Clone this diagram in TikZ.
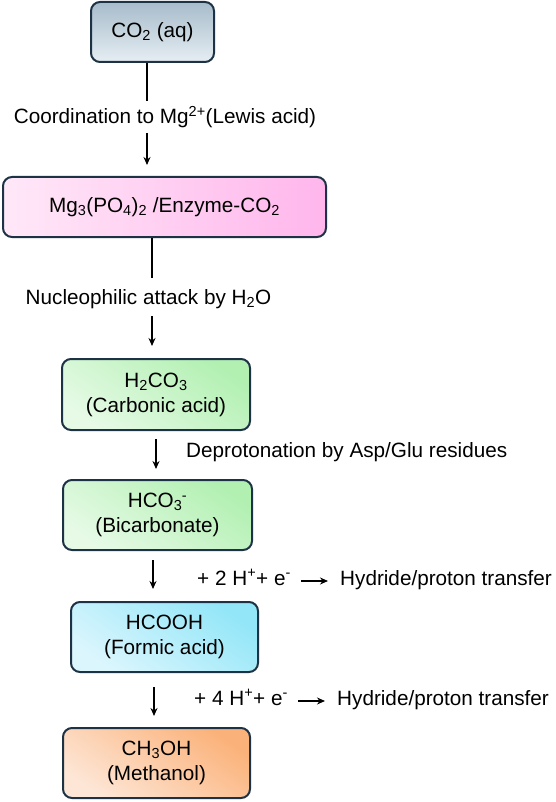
\documentclass[tikz,border=0pt]{standalone}
\usepackage{fontspec}
\setmainfont{Liberation Sans}
\usetikzlibrary{arrows.meta,calc}
\definecolor{bord}{HTML}{1D3345}
\definecolor{coT}{HTML}{A7BCCB}
\definecolor{coB}{HTML}{E6EEF3}
\definecolor{mgL}{HTML}{FFE8F8}
\definecolor{mgR}{HTML}{FFB6EC}
\definecolor{grL}{HTML}{E6FAE6}
\definecolor{grR}{HTML}{B2F0B2}
\definecolor{blL}{HTML}{DCF6FD}
\definecolor{blR}{HTML}{92E6F8}
\definecolor{orL}{HTML}{FDE6D6}
\definecolor{orR}{HTML}{FBB27A}
\tikzset{
  box/.style={draw=bord, line width=2pt, rounded corners=9pt, inner sep=0pt,
    align=center, font=\fontsize{20.7}{25}\selectfont},
  lab/.style={anchor=base, inner sep=0pt, font=\fontsize{20.7}{25}\selectfont},
  conn/.style={line width=1.6pt, black},
  arr/.style={conn, -{Stealth[length=8pt,width=7pt]}},
  sidearr/.style={line width=1.8pt, black, -{Stealth[length=8pt,width=7pt]}},
}
\begin{document}
\begin{tikzpicture}[x=1pt,y=1pt]
\useasboundingbox (0,0) rectangle (555,-802);
% boxes
\node[box, minimum width=123pt, minimum height=60pt, top color=coT, bottom color=coB]
  (co2) at (152.5,-32) {CO\textsubscript{2} (aq)};
\node[box, minimum width=323pt, minimum height=60pt, left color=mgL, right color=mgR]
  (mg) at (164.5,-207) {Mg\textsubscript{3}(PO\textsubscript{4})\textsubscript{2} /Enzyme-CO\textsubscript{2}};
\node[box, minimum width=188pt, minimum height=71pt, bottom color=grL, top color=grR, shading angle=-35]
  (h2co3) at (156,-394.5) {H\textsubscript{2}CO\textsubscript{3}\\(Carbonic acid)};
\node[box, minimum width=189pt, minimum height=70pt, bottom color=grL, top color=grR, shading angle=-35]
  (hco3) at (157.5,-515) {HCO\textsubscript{3}\kern-0.5pt\textsuperscript{-}\\(Bicarbonate)};
\node[box, minimum width=187pt, minimum height=70pt, bottom color=blL, top color=blR, shading angle=-35]
  (hcooh) at (164.5,-637) {HCOOH\\(Formic acid)};
\node[box, minimum width=187pt, minimum height=70pt, bottom color=orL, top color=orR, shading angle=-35]
  (ch3oh) at (156.5,-763) {CH\textsubscript{3}OH\\(Methanol)};
% labels
\node[lab] (l1) at (165,-124) {Coordination to Mg\textsuperscript{2+}(Lewis acid)};
\node[lab] (l2) at (148.5,-304) {Nucleophilic attack by H\textsubscript{2}O};
\node[lab, anchor=base west] (l3) at (186,-457) {Deprotonation by Asp/Glu residues};
\node[lab, anchor=base west] (l4) at (197,-585) {+ 2 H\textsuperscript{+}+ e\textsuperscript{-}};
\node[lab, anchor=base west] (h4) at (340,-585) {Hydride/proton transfer};
\node[lab, anchor=base west] (l5) at (194,-705) {+ 4 H\textsuperscript{+}+ e\textsuperscript{-}};
\node[lab, anchor=base west] (h5) at (337,-705) {Hydride/proton transfer};
% connector helper coordinates
\coordinate (c1) at (147,-101);
\coordinate (d1) at (147,-133);
\coordinate (c2) at (152,-278);
\coordinate (d2) at (152,-316);
\coordinate (x3) at (156,0);
\coordinate (x4) at (153,0);
\coordinate (x5) at (154,0);
% connectors
\draw[conn] (co2.south -| c1) -- (c1);
\draw[arr, shorten >=11pt] (d1) -- (mg.north -| d1);
\draw[conn] (mg.south -| c2) -- (c2);
\draw[arr, shorten >=12pt] (d2) -- (h2co3.north -| d2);
\draw[arr, shorten <=8pt, shorten >=10pt] (h2co3.south -| x3) -- (hco3.north -| x3);
\draw[arr, shorten <=9pt, shorten >=12pt] (hco3.south -| x4) -- (hcooh.north -| x4);
\draw[arr, shorten <=14pt, shorten >=11pt] (hcooh.south -| x5) -- (ch3oh.north -| x5);
% small side arrows
\draw[sidearr] ($(l4.base east)+(10,4)$) -- ($(h4.base west)+(-12,4)$);
\draw[sidearr] ($(l5.base east)+(10,4)$) -- ($(h5.base west)+(-12,4)$);
\end{tikzpicture}
\end{document}
